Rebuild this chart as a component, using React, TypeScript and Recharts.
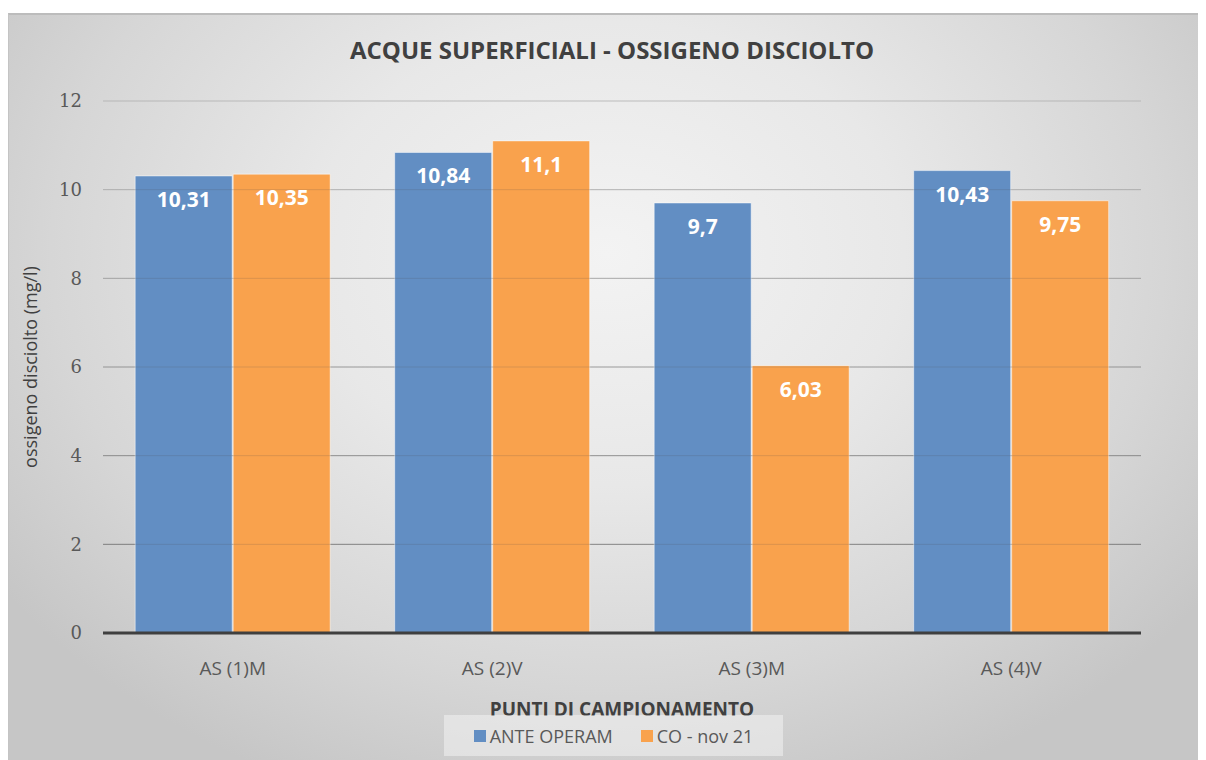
import React from 'react';
import {
  BarChart,
  Bar,
  XAxis,
  YAxis,
  CartesianGrid,
  LabelList,
  Legend,
  ReferenceLine
} from 'recharts';

// Punti di campionamento e valori (mg/l)
const categories = ['AS (1)M', 'AS (2)V', 'AS (3)M', 'AS (4)V'];
const anteOperam = [10.31, 10.84, 9.7, 10.43];
const coNov21 = [10.35, 11.1, 6.03, 9.75];
const yTicks = [0, 2, 4, 6, 8, 10, 12];

const seriesNames = ['ANTE OPERAM', 'CO - nov 21'];
const BLUE = '#628ec3';
const ORANGE = '#f9a24d';

const data = categories.map((name, i) => ({
  name,
  ante: anteOperam[i],
  co: coNov21[i]
}));

const WIDTH = 1198;
const HEIGHT = 747;
const SANS = '"Open Sans", "Noto Sans", sans-serif';
const SERIF = '"DejaVu Serif", "Liberation Serif", serif';

const formatValue = (v: any) => String(v).replace('.', ',');

// tick personalizzati per controllare font e dimensioni
const XTick = (props: any) => {
  const { x, y, payload } = props;
  return (
    <text x={x} y={y} dy="0.71em" textAnchor="middle" fill="#595959" fontSize={19} fontFamily={SANS}>
      {payload.value}
    </text>
  );
};

const YTick = (props: any) => {
  const { x, y, payload } = props;
  return (
    <text x={x} y={y} dy="0.36em" textAnchor="end" fill="#595959" fontSize={18} fontFamily={SERIF}>
      {payload.value}
    </text>
  );
};

const LegendBox = () => {
  const items = [
    { label: seriesNames[0], color: BLUE },
    { label: seriesNames[1], color: ORANGE }
  ];
  return (
    <div
      style={{
        width: '100%',
        height: '100%',
        display: 'flex',
        alignItems: 'center',
        justifyContent: 'center',
        gap: 28,
        background: 'rgba(245,245,245,0.5)',
        fontFamily: SANS,
        fontSize: 18,
        color: '#595959'
      }}
    >
      {items.map((it) => (
        <div key={it.label} style={{ display: 'flex', alignItems: 'center', gap: 4 }}>
          <span style={{ width: 12, height: 12, background: it.color, display: 'inline-block' }} />
          <span>{it.label}</span>
        </div>
      ))}
    </div>
  );
};

export default function App() {
  return (
    <div
      style={{
        position: 'relative',
        marginTop: 5,
        width: WIDTH,
        height: HEIGHT,
        borderTop: '2px solid #bcbcbc',
        borderLeft: '1px solid #c4c4c4',
        boxSizing: 'border-box',
        background: 'radial-gradient(ellipse 62% 78% at 50% 32%, #f3f3f3 0%, #e8e8e8 40%, #d6d6d6 75%, #c6c6c6 100%)',
        fontFamily: SANS
      }}
    >
      <div
        style={{
          position: 'absolute',
          top: 23,
          left: 4,
          width: WIDTH,
          textAlign: 'center',
          fontSize: 24,
          lineHeight: '24px',
          fontWeight: 700,
          color: '#404040',
          fontFamily: SANS
        }}
      >
        ACQUE SUPERFICIALI - OSSIGENO DISCIOLTO
      </div>
      <div style={{ position: 'absolute', top: -2, left: -1 }}>
        <BarChart
          width={WIDTH}
          height={HEIGHT}
          data={data}
          margin={{ top: 88, right: 65, bottom: 0, left: 0 }}
          barCategoryGap="12.4%"
          barGap={1}
        >
          <defs>
            <linearGradient id="gridGrad" gradientUnits="userSpaceOnUse" x1="0" y1="88" x2="0" y2="620">
              <stop offset="0%" stopColor="#cccccc" />
              <stop offset="100%" stopColor="#555555" />
            </linearGradient>
          </defs>
          <CartesianGrid vertical={false} stroke="url(#gridGrad)" strokeOpacity={0.65} />
          <XAxis
            dataKey="name"
            height={127}
            tickSize={0}
            tickMargin={29}
            axisLine={{ stroke: '#3f3f3f', strokeWidth: 3 }}
            tickLine={false}
            tick={<XTick />}
            label={{
              value: 'PUNTI DI CAMPIONAMENTO',
              position: 'insideTop',
              offset: 70,
              fill: '#404040',
              fontSize: 19,
              fontWeight: 700,
              fontFamily: SANS
            }}
          />
          <YAxis
            domain={[0, 12]}
            ticks={yTicks}
            width={95}
            axisLine={false}
            tickLine={false}
            tickSize={0}
            tickMargin={21}
            tick={<YTick />}
            label={{
              value: 'ossigeno disciolto (mg/l)',
              angle: -90,
              position: 'center',
              dx: -25,
              fill: '#404040',
              fontSize: 18,
              fontFamily: SANS
            }}
          />
          <Bar
            dataKey="ante"
            name={seriesNames[0]}
            fill={BLUE}
            stroke="rgba(255,255,255,0.5)"
            isAnimationActive={false}
          >
            <LabelList
              dataKey="ante"
              position="insideTop"
              offset={16}
              formatter={formatValue}
              fill="#ffffff"
              fontSize={21}
              fontWeight={700}
              fontFamily={SANS}
            />
          </Bar>
          <Bar
            dataKey="co"
            name={seriesNames[1]}
            fill={ORANGE}
            stroke="rgba(255,255,255,0.5)"
            isAnimationActive={false}
          >
            <LabelList
              dataKey="co"
              position="insideTop"
              offset={16}
              formatter={formatValue}
              fill="#ffffff"
              fontSize={21}
              fontWeight={700}
              fontFamily={SANS}
            />
          </Bar>
          {yTicks.slice(1).map((t) => (
            <ReferenceLine key={t} y={t} stroke="#505050" strokeOpacity={0.18} />
          ))}
          <Legend
            verticalAlign="middle"
            content={<LegendBox />}
            wrapperStyle={{ top: 702, left: 436, width: 339, height: 41 }}
          />
        </BarChart>
      </div>
    </div>
  );
}
